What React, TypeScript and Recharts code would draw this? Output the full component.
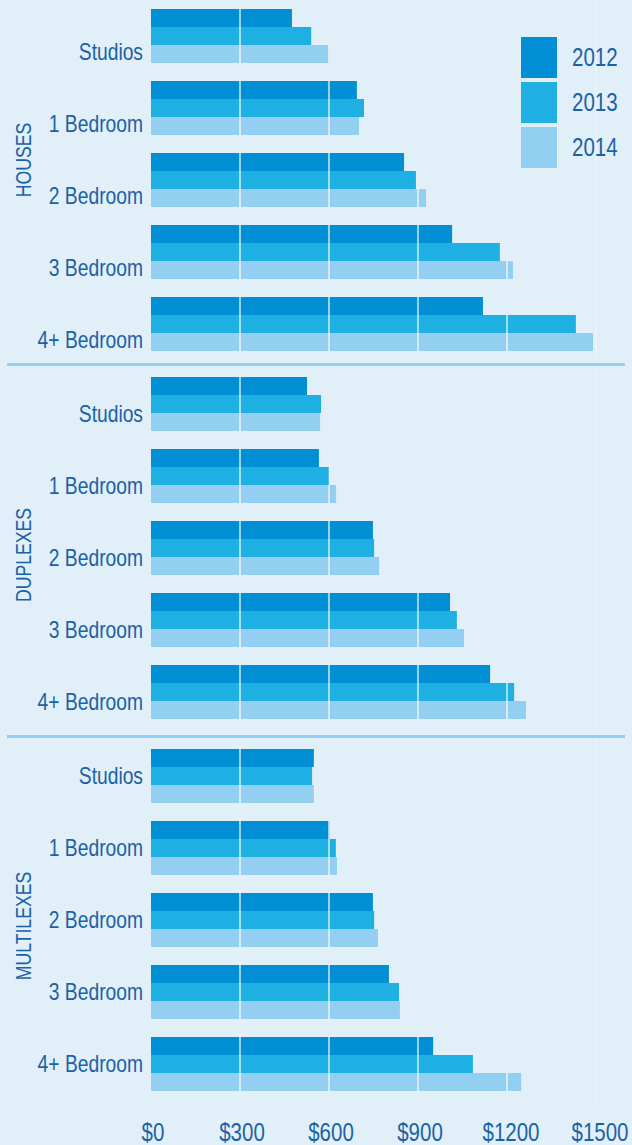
import { BarChart, Bar, XAxis, YAxis, ReferenceLine } from 'recharts';

const CATEGORIES = ['Studios', '1 Bedroom', '2 Bedroom', '3 Bedroom', '4+ Bedroom'];
const YEARS = ['2012', '2013', '2014'];
const X_TICKS = [0, 300, 600, 900, 1200, 1500];

const HOUSES_2012 = [475, 694, 853, 1015, 1119];
const HOUSES_2013 = [540, 718, 893, 1176, 1432];
const HOUSES_2014 = [597, 701, 927, 1220, 1490];

const DUPLEXES_2012 = [526, 566, 748, 1008, 1143];
const DUPLEXES_2013 = [573, 599, 752, 1031, 1224];
const DUPLEXES_2014 = [570, 624, 769, 1055, 1264];

const MULTI_2012 = [549, 602, 748, 802, 951];
const MULTI_2013 = [543, 623, 752, 836, 1085];
const MULTI_2014 = [549, 627, 765, 839, 1248];

const COLORS = ['#008fd5', '#1eafe3', '#93cff1'];
const BG = '#e1eff9';
const TEXT = '#1b62a5';
// no narrow font installed, so Liberation Sans is squeezed horizontally
const FONT = "'Liberation Sans', Arial, sans-serif";
const SQUEEZE = 0.82;

const W = 632;
const PLOT_H = 360;
const Y_W = 151;
const RIGHT = 36;

function rows(a: number[], b: number[], c: number[]) {
  return CATEGORIES.map((name, i) => ({ name, y2012: a[i], y2013: b[i], y2014: c[i] }));
}

// bar with thin white cuts at every $300 step
function GridBar(props: any) {
  const { x, y, width, height, fill } = props;
  let v = props.value;
  if (Array.isArray(v)) v = v[1] - v[0];
  const cuts = X_TICKS.filter((t) => t > 0 && t < v).map((t) => x + (width * t) / v);
  return (
    <g>
      <rect x={x} y={y} width={width} height={height} fill={fill} />
      {cuts.map((cx) => (
        <line key={cx} x1={cx} x2={cx} y1={y} y2={y + height} stroke="#ffffff" strokeWidth={1.2} />
      ))}
    </g>
  );
}

function CatTick({ x, y, payload, shift }: any) {
  return (
    <text
      transform={`translate(${x} ${y + shift}) scale(${SQUEEZE} 1)`}
      textAnchor="end"
      dominantBaseline="central"
      fill={TEXT}
      fontSize={23.5}
      fontFamily={FONT}
    >
      {payload.value}
    </text>
  );
}

function MoneyTick({ x, y, payload }: any) {
  const dx = payload.value >= 1200 ? 4 : 2;
  return (
    <text
      transform={`translate(${x + dx} ${y + 24}) scale(${SQUEEZE} 1)`}
      textAnchor="middle"
      dominantBaseline="central"
      fill={TEXT}
      fontSize={25}
      fontFamily={FONT}
    >
      ${payload.value}
    </text>
  );
}

function LegendBox() {
  return (
    <div style={{ position: 'absolute', left: 521, top: 37 }}>
      {YEARS.map((yr, i) => (
        <div key={yr} style={{ position: 'relative', height: 41, marginBottom: 4 }}>
          <div style={{ width: 36, height: 41, background: COLORS[i] }} />
          <span
            style={{
              position: 'absolute',
              left: 51,
              top: 20,
              transform: `translateY(-50%) scaleX(${SQUEEZE})`,
              transformOrigin: 'left center',
              color: TEXT,
              fontSize: 25,
              fontFamily: FONT,
              lineHeight: 1,
            }}
          >
            {yr}
          </span>
        </div>
      ))}
    </div>
  );
}

function Group({ title, data, top, titleY, shift, axis }: { title: string; data: any[]; top: number; titleY: number; shift: number; axis?: boolean }) {
  const h = PLOT_H + (axis ? 45 : 0);
  return (
    <div style={{ position: 'absolute', left: 0, top, width: W, height: h }}>
      <BarChart
        width={W}
        height={h}
        data={data}
        layout="vertical"
        barGap={0}
        barCategoryGap={18}
        margin={{ top: 0, right: RIGHT, bottom: 0, left: 0 }}
      >
        <XAxis
          type="number"
          domain={[0, 1500]}
          ticks={X_TICKS}
          hide={!axis}
          height={45}
          axisLine={false}
          tickLine={false}
          tick={<MoneyTick />}
          interval={0}
        />
        <YAxis
          type="category"
          dataKey="name"
          width={Y_W}
          axisLine={false}
          tickLine={false}
          tick={<CatTick shift={shift} />}
          interval={0}
        />
        <ReferenceLine x={1500} stroke="#eef8fe" strokeWidth={1} />
        {YEARS.map((yr, i) => (
          <Bar key={yr} dataKey={'y' + yr} name={yr} fill={COLORS[i]} barSize={18} shape={<GridBar />} isAnimationActive={false} />
        ))}
      </BarChart>
      <div
        style={{
          position: 'absolute',
          left: 25,
          top: titleY,
          transform: `translate(-50%, -50%) rotate(-90deg) scaleX(${SQUEEZE})`,
          color: TEXT,
          fontSize: 21.5,
          fontFamily: FONT,
          lineHeight: 1,
          whiteSpace: 'nowrap',
        }}
      >
        {title}
      </div>
    </div>
  );
}

export default function App() {
  return (
    <div style={{ position: 'absolute', left: 0, top: 0, width: W, height: 1145, background: BG, overflow: 'hidden' }}>
      <Group title="HOUSES" data={rows(HOUSES_2012, HOUSES_2013, HOUSES_2014)} top={0} titleY={160} shift={16} />
      <LegendBox />
      <div style={{ position: 'absolute', left: 7, top: 363, width: 618, height: 3, background: '#93cff1' }} />
      <Group title="DUPLEXES" data={rows(DUPLEXES_2012, DUPLEXES_2013, DUPLEXES_2014)} top={368} titleY={187} shift={10} />
      <div style={{ position: 'absolute', left: 7, top: 735, width: 618, height: 3, background: '#93cff1' }} />
      <Group title="MULTILEXES" data={rows(MULTI_2012, MULTI_2013, MULTI_2014)} top={740} titleY={186} shift={0} axis />
    </div>
  );
}
